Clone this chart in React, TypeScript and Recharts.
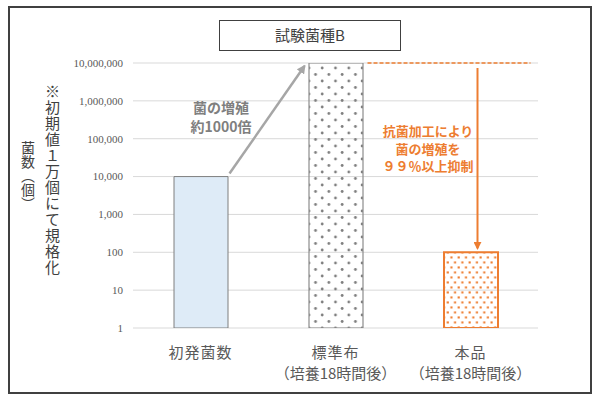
import React from 'react';
import {
  BarChart,
  Bar,
  Cell,
  XAxis,
  YAxis,
  CartesianGrid,
  ReferenceLine,
} from 'recharts';

const categories = ['初発菌数', '標準布', '本品'];
const subLabels = ['', '（培養18時間後）', '（培養18時間後）'];
const counts = [10000, 10000000, 100];
const yTicks = [1, 10, 100, 1000, 10000, 100000, 1000000, 10000000];

const data = categories.map((name, i) => ({ name, sub: subLabels[i], count: counts[i] }));

const JP = '"Noto Sans CJK JP", "Noto Sans", sans-serif';
const ORANGE = '#ed7d31';
const GRAY_ARROW = '#a6a6a6';

const barFills = ['#deebf7', 'url(#dotsGray)', 'url(#dotsOrange)'];
const barStrokes = ['#7f7f7f', '#8c8c8c', ORANGE];
const barStrokeWidths = [1, 1.2, 2];

const CategoryTick = ({ x, y, payload }: any) => {
  const idx = categories.indexOf(payload.value);
  return (
    <g>
      <text x={x} y={y + 30} textAnchor="middle" fill="#595959" fontSize={15} fontFamily={JP} letterSpacing={1}>
        {payload.value}
      </text>
      {subLabels[idx] ? (
        <text x={x} y={y + 51} textAnchor="middle" fill="#595959" fontSize={15} fontFamily={JP}>
          {subLabels[idx]}
        </text>
      ) : null}
    </g>
  );
};

// line shape with offsets from the reference points
const offsetLine =
  (dx1: number, dy1: number, dx2: number, dy2: number, stroke: string, width: number, marker?: string, dash?: string) =>
  (props: any) =>
    (
      <line
        x1={props.x1 + dx1}
        y1={props.y1 + dy1}
        x2={props.x2 + dx2}
        y2={props.y2 + dy2}
        stroke={stroke}
        strokeWidth={width}
        strokeDasharray={dash}
        markerEnd={marker ? `url(#${marker})` : undefined}
      />
    );

const App: React.FC = () => {
  return (
    <div style={{ position: 'absolute', left: 0, top: 0, width: 600, height: 400, background: '#fff' }}>
      <div
        style={{
          position: 'absolute',
          left: 8,
          top: 6,
          width: 584,
          height: 388,
          border: '2px solid #404040',
          boxSizing: 'border-box',
        }}
      />
      <BarChart
        width={600}
        height={400}
        data={data}
        margin={{ top: 63, right: 62, bottom: 22, left: 73 }}
        style={{ position: 'absolute', left: 0, top: 0 }}
      >
        <defs>
          <pattern id="dotsGray" patternUnits="userSpaceOnUse" width={13.3} height={13}>
            <circle cx={3} cy={3} r={1.4} fill="#7f7f7f" />
            <circle cx={9.65} cy={9.5} r={1.4} fill="#7f7f7f" />
          </pattern>
          <pattern id="dotsOrange" patternUnits="userSpaceOnUse" width={7.3} height={10}>
            <rect x={1.4} y={1.4} width={2.1} height={2.1} fill={ORANGE} />
            <rect x={5.05} y={6.4} width={2.1} height={2.1} fill={ORANGE} />
          </pattern>
          <marker id="arrowGray" viewBox="0 0 10 10" refX="8" refY="5" markerWidth="3.6" markerHeight="3.6" orient="auto">
            <path d="M0,0 L10,5 L0,10 z" fill={GRAY_ARROW} />
          </marker>
          <marker id="arrowOrange" viewBox="0 0 10 10" refX="8" refY="5" markerWidth="4" markerHeight="4" orient="auto">
            <path d="M0,0 L10,5 L0,10 z" fill={ORANGE} />
          </marker>
        </defs>
        <CartesianGrid vertical={false} stroke="#d9d9d9" />
        <XAxis
          dataKey="name"
          axisLine={false}
          tickLine={false}
          tickSize={0}
          tickMargin={0}
          height={50}
          tick={<CategoryTick />}
          interval={0}
        />
        <YAxis
          scale="log"
          domain={[1, 10000000]}
          ticks={yTicks}
          allowDataOverflow
          axisLine={false}
          tickLine={false}
          tickSize={0}
          tickMargin={10}
          width={60}
          tick={{ fill: '#595959', fontSize: 11, fontFamily: '"Liberation Serif", serif' }}
          tickFormatter={(v: number) => v.toLocaleString('en-US')}
        />
        <Bar dataKey="count" barSize={54} isAnimationActive={false}>
          {data.map((d, i) => (
            <Cell key={d.name} fill={barFills[i]} stroke={barStrokes[i]} strokeWidth={barStrokeWidths[i]} />
          ))}
        </Bar>
        <ReferenceLine
          segment={[
            { x: '初発菌数', y: 10000 },
            { x: '標準布', y: 10000000 },
          ]}
          ifOverflow="visible"
          shape={offsetLine(29, -3, -31, 3, GRAY_ARROW, 2.5, 'arrowGray')}
        />
        <ReferenceLine
          segment={[
            { x: '標準布', y: 10000000 },
            { x: '本品', y: 10000000 },
          ]}
          ifOverflow="visible"
          shape={offsetLine(32, 0, 60, 0, ORANGE, 1.3, undefined, '4 2')}
        />
        <ReferenceLine
          segment={[
            { x: '本品', y: 10000000 },
            { x: '本品', y: 100 },
          ]}
          ifOverflow="visible"
          shape={offsetLine(7, 5, 7, -4, ORANGE, 2, 'arrowOrange')}
        />
      </BarChart>
      <div
        style={{
          position: 'absolute',
          left: 219,
          top: 20,
          width: 182,
          height: 31,
          border: '1.5px solid #404040',
          boxSizing: 'border-box',
          textAlign: 'center',
          lineHeight: '28px',
          fontSize: 15,
          fontFamily: JP,
          color: '#404040',
          background: '#fff',
        }}
      >
        試験菌種B
      </div>
      <div
        style={{
          position: 'absolute',
          left: 20,
          top: 141,
          writingMode: 'vertical-rl',
          fontSize: 14,
          lineHeight: '16px',
          fontFamily: JP,
          color: '#404040',
        }}
      >
        菌数（個）
      </div>
      <div
        style={{
          position: 'absolute',
          left: 44,
          top: 84,
          writingMode: 'vertical-rl',
          fontSize: 15,
          lineHeight: '17px',
          letterSpacing: 1,
          fontFamily: JP,
          color: '#404040',
        }}
      >
        ※初期値１万個にて規格化
      </div>
      <div
        style={{
          position: 'absolute',
          left: 171,
          top: 98,
          width: 100,
          textAlign: 'center',
          fontSize: 14,
          lineHeight: '19px',
          fontWeight: 700,
          fontFamily: JP,
          color: '#7f7f7f',
        }}
      >
        菌の増殖
        <br />
        約1000倍
      </div>
      <div
        style={{
          position: 'absolute',
          left: 368,
          top: 122,
          width: 120,
          textAlign: 'center',
          fontSize: 13,
          lineHeight: '17.5px',
          fontWeight: 700,
          fontFamily: JP,
          color: ORANGE,
        }}
      >
        抗菌加工により
        <br />
        菌の増殖を
        <br />
        ９９％以上抑制
      </div>
    </div>
  );
};

export default App;
